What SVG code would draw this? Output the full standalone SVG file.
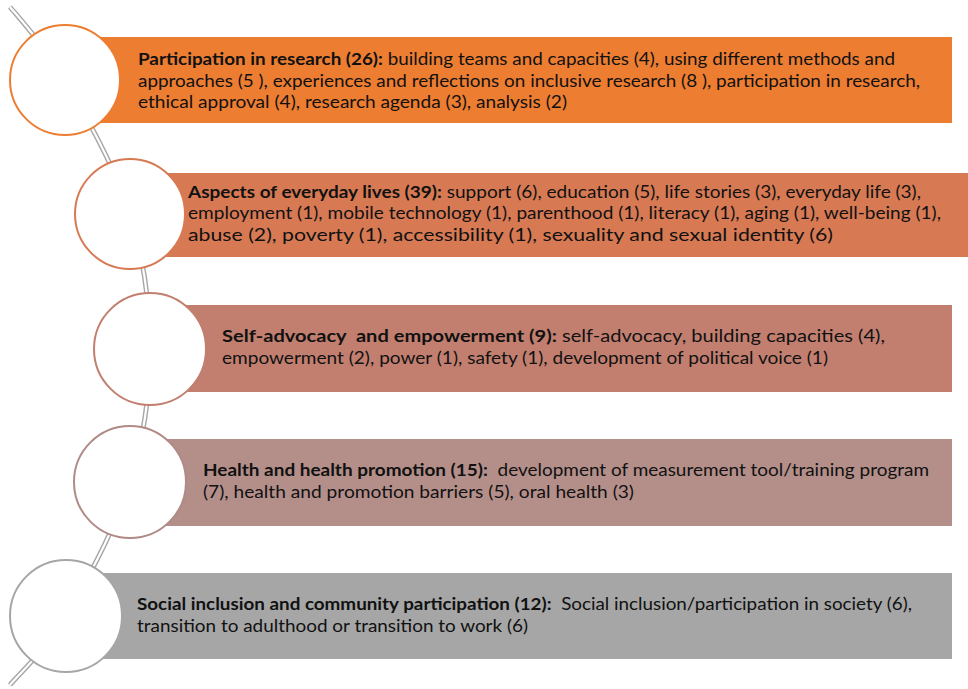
<svg xmlns="http://www.w3.org/2000/svg" width="968" height="689" viewBox="0 0 968 689">
<style>
text { font-family: Lato, "Open Sans", "Liberation Sans", sans-serif; font-size: 17.4px; fill: #111111; }
.b { font-weight: bold; }
.circ { fill: #ffffff; stroke-width: 2; }
.line-out { fill: none; stroke: #a6a6a6; stroke-width: 5; }
.line-in { fill: none; stroke: #ffffff; stroke-width: 2.2; }
</style>
<rect width="968" height="689" fill="#ffffff"/>
<g id="connectors">
<path id="spine" class="line-out" d="M10,7 C20,19 45,46 65,80 C85,114 116,169 130,214 C144,259 150,304 150,349 C150,394 144,438 130,482 C116,527 86,582 66,616 C46,650 19,674 10,685"/>
<path class="line-in" d="M10,7 C20,19 45,46 65,80 C85,114 116,169 130,214 C144,259 150,304 150,349 C150,394 144,438 130,482 C116,527 86,582 66,616 C46,650 19,674 10,685"/>
</g>
<g id="node1">
<rect x="65" y="37" width="887" height="86" fill="#ED7D31"/>
<circle class="circ" cx="65" cy="80" r="55" stroke="#ED7D31"/>
<text x="138" y="65" textLength="757" lengthAdjust="spacingAndGlyphs"><tspan class="b">Participation in research (26):</tspan> building teams and capacities (4), using different methods and</text>
<text x="138" y="86.5" textLength="782" lengthAdjust="spacingAndGlyphs">approaches (5 ), experiences and reflections on inclusive research (8 ), participation in research,</text>
<text x="138" y="108" textLength="429" lengthAdjust="spacingAndGlyphs">ethical approval (4), research agenda (3), analysis (2)</text>
</g>
<g id="node2">
<rect x="130" y="173" width="838" height="84" fill="#D77A54"/>
<circle class="circ" cx="130" cy="214" r="55" stroke="#D77A54"/>
<text x="188" y="197.5" textLength="733" lengthAdjust="spacingAndGlyphs"><tspan class="b">Aspects of everyday lives (39):</tspan> support (6), education (5), life stories (3), everyday life (3),</text>
<text x="188" y="219" textLength="753" lengthAdjust="spacingAndGlyphs">employment (1), mobile technology (1), parenthood (1), literacy (1), aging (1), well-being (1),</text>
<text x="188" y="240.5" textLength="645" lengthAdjust="spacingAndGlyphs">abuse (2), poverty (1), accessibility (1), sexuality and sexual identity (6)</text>
</g>
<g id="node3">
<rect x="150" y="305" width="802" height="87" fill="#C27F70"/>
<circle class="circ" cx="150" cy="349" r="56" stroke="#C27F70"/>
<text x="222" y="342" textLength="663" lengthAdjust="spacingAndGlyphs" xml:space="preserve"><tspan class="b">Self-advocacy  and empowerment (9):</tspan> self-advocacy, building capacities (4),</text>
<text x="222" y="363.5" textLength="606" lengthAdjust="spacingAndGlyphs">empowerment (2), power (1), safety (1), development of political voice (1)</text>
</g>
<g id="node4">
<rect x="130" y="439" width="822" height="87" fill="#B48F8A"/>
<circle class="circ" cx="130" cy="482" r="56" stroke="#B08A85"/>
<text x="203" y="476" textLength="726" lengthAdjust="spacingAndGlyphs" xml:space="preserve"><tspan class="b">Health and health promotion (15):</tspan>  development of measurement tool/training program</text>
<text x="203" y="497.5" textLength="431" lengthAdjust="spacingAndGlyphs">(7), health and promotion barriers (5), oral health (3)</text>
</g>
<g id="node5">
<rect x="66" y="573" width="886" height="86" fill="#A6A6A6"/>
<circle class="circ" cx="66" cy="616" r="56" stroke="#A6A6A6"/>
<text x="137" y="610" textLength="775" lengthAdjust="spacingAndGlyphs" xml:space="preserve"><tspan class="b">Social inclusion and community participation (12):</tspan>  Social inclusion/participation in society (6),</text>
<text x="137" y="631.5" textLength="391" lengthAdjust="spacingAndGlyphs">transition to adulthood or transition to work (6)</text>
</g>
</svg>
